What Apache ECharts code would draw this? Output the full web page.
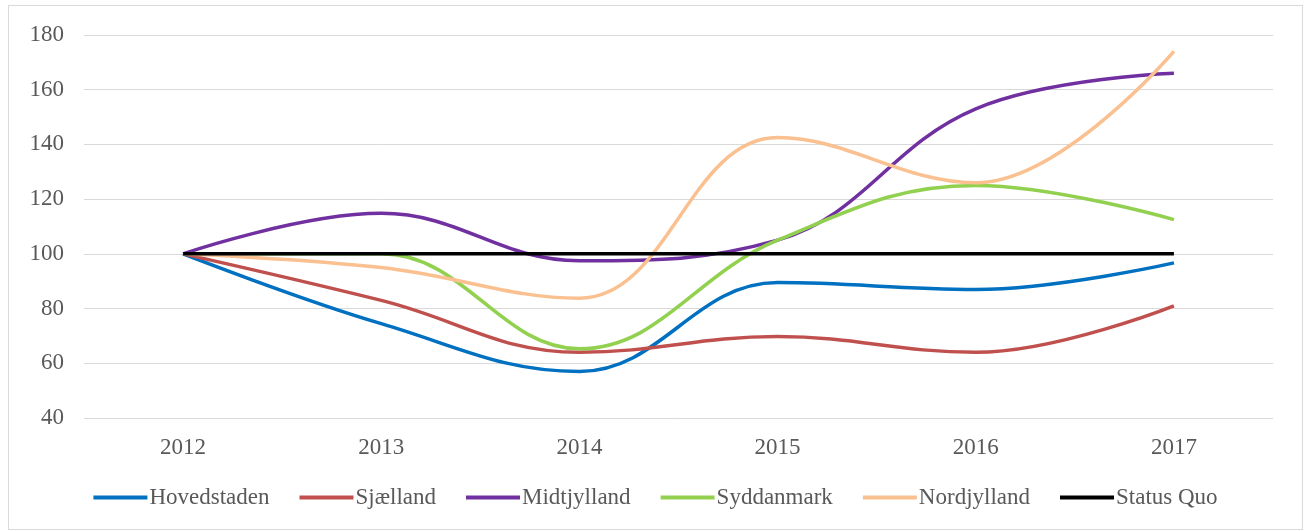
<!DOCTYPE html>
<html>
<head>
<meta charset="utf-8">
<script src="https://cdn.jsdelivr.net/npm/echarts@6/dist/echarts.min.js"></script>
<style>
  html, body { margin: 0; padding: 0; background: #fff; }
  #chart { position: absolute; left: 8px; top: 5px; width: 1295px; height: 525px; border: 1px solid #d9d9d9; box-sizing: border-box; }
</style>
</head>
<body>
<div id="chart"></div>
<script>
const years = ["2012", "2013", "2014", "2015", "2016", "2017"];
const hovedstaden = [100, 74.5, 57, 89.5, 87, 96.7];
const sjaelland = [100, 83, 64, 69.8, 64, 81];
const midtjylland = [100, 114.8, 97.5, 105, 153, 166];
const syddanmark = [100, 100, 65.3, 105, 125, 112.5];
const nordjylland = [100, 95, 83.8, 142.5, 126, 174];
const statusQuo = [100, 100, 100, 100, 100, 100];

const names = ["Hovedstaden", "Sjælland", "Midtjylland", "Syddanmark", "Nordjylland", "Status Quo"];
const colors = ["#0070C0", "#C0504D", "#7030A0", "#92D050", "#FAC090", "#000000"];
const values = [hovedstaden, sjaelland, midtjylland, syddanmark, nordjylland, statusQuo];

const chart = echarts.init(document.getElementById("chart"));
const font = "'Liberation Serif', 'Times New Roman', serif";

chart.setOption({
  animation: false,
  textStyle: { fontFamily: font },
  color: colors,
  grid: { left: 75, right: 29, top: 29, bottom: 111 },
  legend: {
    bottom: 15,
    itemWidth: 54,
    itemHeight: 4,
    itemGap: 30,
    icon: "rect",
    textStyle: { fontFamily: font, fontSize: 23, color: "#595959", padding: [0, 0, 0, -3] },
    data: names
  },
  xAxis: {
    type: "category",
    data: years,
    boundaryGap: true,
    axisLine: { show: false },
    axisTick: { show: false },
    axisLabel: { fontFamily: font, fontSize: 23, color: "#595959", margin: 18 }
  },
  yAxis: {
    type: "value",
    min: 40,
    max: 180,
    interval: 20,
    axisLine: { show: false },
    axisTick: { show: false },
    axisLabel: { fontFamily: font, fontSize: 23, color: "#595959", margin: 20 },
    splitLine: { lineStyle: { color: "#d9d9d9", width: 1 } }
  },
  series: values.map((v, i) => ({
    name: names[i],
    type: "line",
    data: v,
    smooth: i === 5 ? false : 0.4,
    symbol: "none",
    z: i === 5 ? 3 : 2,
    lineStyle: { width: 3.5, color: colors[i] }
  }))
});
</script>
</body>
</html>
